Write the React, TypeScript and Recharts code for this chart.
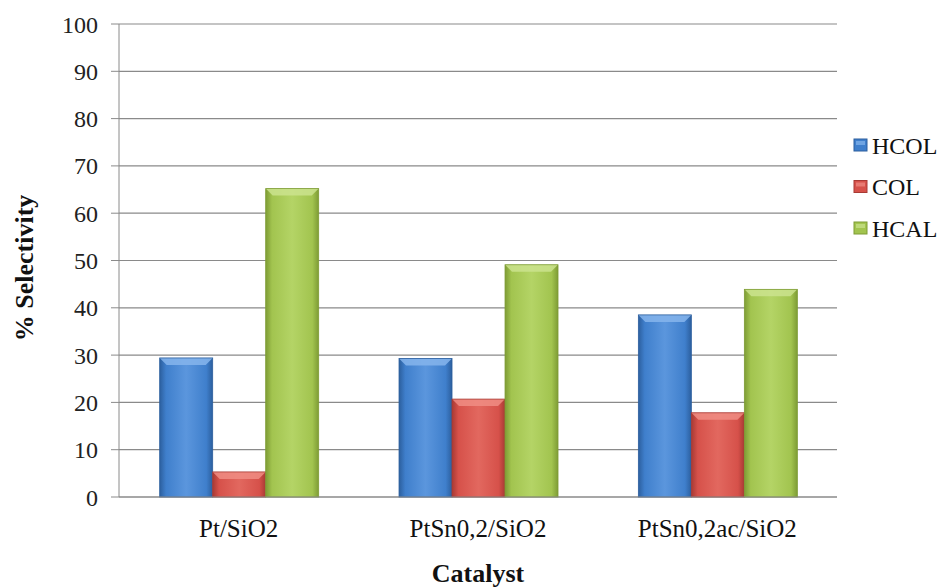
import React from "react";
import { BarChart, Bar, XAxis, YAxis, CartesianGrid } from "recharts";

const catalysts = ["Pt/SiO2", "PtSn0,2/SiO2", "PtSn0,2ac/SiO2"];
const hcol = [29.4, 29.3, 38.5];
const col = [5.3, 20.7, 17.8];
const hcal = [65.2, 49.1, 43.9];
const yTicks = [0, 10, 20, 30, 40, 50, 60, 70, 80, 90, 100];

const data = catalysts.map((name, i) => ({
  name,
  HCOL: hcol[i],
  COL: col[i],
  HCAL: hcal[i],
}));

const FONT = "Liberation Serif, DejaVu Serif, serif";

type Palette = { base: string; light: string; dark: string; top: string };

const palettes: Record<string, Palette> = {
  HCOL: { base: "#3f7fcc", light: "#5b96dd", dark: "#2c5f9e", top: "#86b5ec" },
  COL: { base: "#d6514a", light: "#e2685f", dark: "#a83a34", top: "#f08d84" },
  HCAL: { base: "#a2c44f", light: "#b4d466", dark: "#7e9c35", top: "#cbe38e" },
};

const makeShape = (key: string) => (props: any) => {
  const { x, y, width, height } = props;
  if (!height || height <= 0) return <g />;
  const p = palettes[key];
  const id = `g-${key}-${Math.round(x)}`;
  const b = Math.min(7, height / 2);
  return (
    <g>
      <defs>
        <linearGradient id={id} x1="0" y1="0" x2="1" y2="0">
          <stop offset="0%" stopColor={p.dark} />
          <stop offset="12%" stopColor={p.base} />
          <stop offset="50%" stopColor={p.light} />
          <stop offset="88%" stopColor={p.base} />
          <stop offset="100%" stopColor={p.dark} />
        </linearGradient>
      </defs>
      <rect x={x} y={y} width={width} height={height} fill={`url(#${id})`} />
      <polygon
        points={`${x},${y} ${x + width},${y} ${x + width - b},${y + b} ${x + b},${y + b}`}
        fill={p.top}
        opacity={0.85}
      />
      <rect x={x} y={y} width={width} height={height} fill="none" stroke={p.dark} strokeWidth={0.8} />
    </g>
  );
};

const legendItems = ["HCOL", "COL", "HCAL"];

export default function App() {
  return (
    <div
      style={{
        position: "absolute",
        left: 0,
        top: 0,
        width: 945,
        height: 588,
        background: "#fff",
        fontFamily: FONT,
      }}
    >
      <BarChart
        width={945}
        height={588}
        data={data}
        margin={{ top: 24, right: 108, left: 0, bottom: 61 }}
        barCategoryGap="17%"
        barGap={0}
        style={{ fontFamily: FONT }}
      >
        <CartesianGrid vertical={false} stroke="#8a8a8a" strokeWidth={1.2} />
        <XAxis
          dataKey="name"
          height={30}
          stroke="#8a8a8a"
          tickLine={false}
          tickSize={0}
          tickMargin={22}
          tick={{ fill: "#111", fontSize: 25 }}
        />
        <YAxis
          width={119}
          domain={[0, 100]}
          ticks={yTicks}
          interval={0}
          stroke="#8a8a8a"
          tickSize={8}
          tickMargin={13}
          tick={{ fill: "#222", fontSize: 24 }}
        />
        <Bar dataKey="HCOL" fill="#3f7fcc" shape={makeShape("HCOL")} isAnimationActive={false} />
        <Bar dataKey="COL" fill="#d6514a" shape={makeShape("COL")} isAnimationActive={false} />
        <Bar dataKey="HCAL" fill="#a2c44f" shape={makeShape("HCAL")} isAnimationActive={false} />
      </BarChart>
      <svg
        width={945}
        height={588}
        style={{ position: "absolute", left: 0, top: 0, pointerEvents: "none", fontFamily: FONT }}
      >
        <text x={478} y={582} textAnchor="middle" fontWeight="bold" fontSize={26} fill="#111">
          Catalyst
        </text>
        <text
          transform="translate(33,268) rotate(-90)"
          textAnchor="middle"
          fontWeight="bold"
          fontSize={26}
          fill="#111"
        >
          % Selectivity
        </text>
        {legendItems.map((k, i) => {
          const cy = 145 + i * 41.5;
          const p = palettes[k];
          return (
            <g key={k}>
              <rect x={854} y={cy - 6} width={13} height={12} fill={p.base} stroke={p.dark} strokeWidth={1} />
              <rect x={856} y={cy - 4} width={9} height={4} fill={p.top} opacity={0.7} />
              <text x={872} y={cy + 8.5} fontSize={24} fill="#111">
                {k}
              </text>
            </g>
          );
        })}
      </svg>
    </div>
  );
}
